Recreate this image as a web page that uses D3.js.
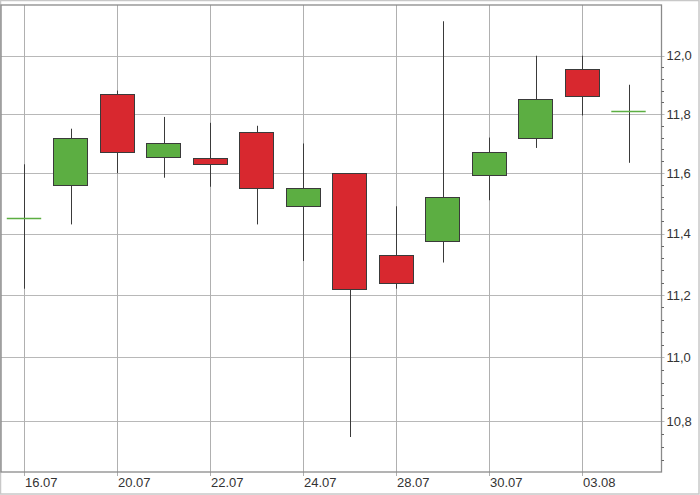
<!DOCTYPE html>
<html>
<head>
<meta charset="utf-8">
<script src="https://cdn.jsdelivr.net/npm/d3@7"></script>
<style>
html,body{margin:0;padding:0;background:#fff;}
svg{display:block;}
text{font-family:Arial,"Liberation Sans",sans-serif;font-size:13px;fill:#333;}
</style>
</head>
<body>
<svg id="chart" width="700" height="495"></svg>
<script>
// ---- data ----
const dates = ["16.07","17.07","20.07","21.07","22.07","23.07","24.07","27.07","28.07","29.07","30.07","31.07","03.08","04.08"];
const open  = [11.45, 11.56, 11.87, 11.655, 11.65, 11.74, 11.49, 11.60, 11.33, 11.375, 11.595, 11.72, 11.955, 11.81];
const high  = [11.63, 11.75, 11.88, 11.79, 11.77, 11.76, 11.70, 11.60, 11.49, 12.12, 11.72, 12.00, 12.00, 11.90];
const low   = [11.22, 11.43, 11.60, 11.585, 11.555, 11.43, 11.31, 10.75, 11.22, 11.305, 11.51, 11.685, 11.795, 11.635];
const close = [11.45, 11.72, 11.67, 11.70, 11.63, 11.55, 11.55, 11.22, 11.24, 11.52, 11.67, 11.85, 11.86, 11.81];
const xTickLabels = ["16.07","20.07","22.07","24.07","28.07","30.07","03.08"];
const yTickValues = [10.8, 11.0, 11.2, 11.4, 11.6, 11.8, 12.0];
const yMinorTicks = d3.range(10.68, 12.001, 0.04).map(v => +v.toFixed(2));
const yDomain = [10.642, 12.177];

const candles = dates.map((d, i) => ({date: d, o: open[i], h: high[i], l: low[i], c: close[i]}));

// ---- layout ----
const W = 700, H = 495;
const plot = {left: 1, top: 5, right: 661.5, bottom: 472};
const svg = d3.select("#chart");

const x = d3.scaleBand().domain(dates).range([0.75, 651.75]).paddingInner(0.26).paddingOuter(0.13);
const y = d3.scaleLog().domain(yDomain).range([plot.bottom, plot.top]);
const cx = d => Math.round(x(d) + x.bandwidth() / 2);

// outer frame
svg.append("rect").attr("x", 0.5).attr("y", 0.5).attr("width", W - 1.5).attr("height", H - 1.5)
  .attr("fill", "#fff").attr("stroke", "#c8c8c8").attr("stroke-width", 1.5);

// grid
const g = svg.append("g");
g.selectAll(".hg").data(yTickValues).join("line")
  .attr("x1", plot.left).attr("x2", plot.right + 3)
  .attr("y1", d => Math.round(y(d)) + 0.5).attr("y2", d => Math.round(y(d)) + 0.5)
  .attr("stroke", "#b8b8b8").attr("stroke-width", 1);
g.selectAll(".vg").data(xTickLabels).join("line")
  .attr("x1", d => cx(d) + 0.5).attr("x2", d => cx(d) + 0.5)
  .attr("y1", plot.top).attr("y2", plot.bottom + 4)
  .attr("stroke", "#b0b0b0").attr("stroke-width", 1);

// plot border
svg.append("rect").attr("x", plot.left).attr("y", plot.top)
  .attr("width", plot.right - plot.left).attr("height", plot.bottom - plot.top)
  .attr("fill", "none").attr("stroke", "#8a8a8a").attr("stroke-width", 1.3);

// right axis minor ticks
svg.append("g").selectAll("line").data(yMinorTicks.filter(v => !yTickValues.some(t => Math.abs(t - v) < 1e-6))).join("line")
  .attr("x1", plot.right).attr("x2", plot.right + 2.5)
  .attr("y1", d => Math.round(y(d)) + 0.5).attr("y2", d => Math.round(y(d)) + 0.5)
  .attr("stroke", "#666").attr("stroke-width", 1);

// right axis labels
const fmt = v => v.toFixed(1).replace(".", ",");
svg.append("g").selectAll("text").data(yTickValues).join("text")
  .attr("x", plot.right + 5).attr("y", d => y(d)).attr("dy", "0.36em")
  .text(fmt);

// bottom axis labels
svg.append("g").selectAll("text").data(xTickLabels).join("text")
  .attr("x", d => cx(d) + 1).attr("y", 487)
  .text(d => d);

// candles
const green = "#5cae42", red = "#d8282f";
const cg = svg.append("g");
cg.selectAll(".wick").data(candles).join("line")
  .attr("x1", d => cx(d.date) + 0.5).attr("x2", d => cx(d.date) + 0.5)
  .attr("y1", d => y(d.h)).attr("y2", d => y(d.l))
  .attr("stroke", "#3a3a3a").attr("stroke-width", 1);

const bw = x.bandwidth();
candles.forEach(d => {
  const yo = y(d.o), yc = y(d.c);
  const top = Math.min(yo, yc), bot = Math.max(yo, yc);
  const col = d.c >= d.o ? green : red;
  const x0 = x(d.date);
  if (bot - top < 1.5) {
    cg.append("line").attr("x1", x0).attr("x2", x0 + bw)
      .attr("y1", Math.round(top) + 0.5).attr("y2", Math.round(top) + 0.5)
      .attr("stroke", col).attr("stroke-width", 1.5);
  } else {
    cg.append("rect").attr("x", Math.round(x0) + 0.5).attr("y", Math.round(top) + 0.5)
      .attr("width", Math.round(bw)).attr("height", Math.round(bot) - Math.round(top))
      .attr("fill", col).attr("stroke", "#3a3a3a").attr("stroke-width", 1);
  }
});
</script>
</body>
</html>
